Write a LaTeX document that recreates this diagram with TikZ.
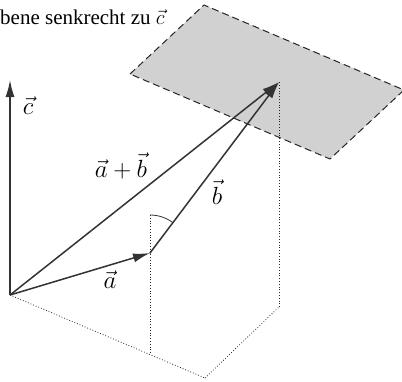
\documentclass[tikz,border=0pt]{standalone}
\usepackage{fontspec}
\setmainfont{Liberation Serif}
\usetikzlibrary{arrows.meta}

\begin{document}
\begin{tikzpicture}[x=1pt, y=-1pt,
    vec/.style = {draw=black!80, line width=1.5pt,
      -{Latex[length=17pt, width=9pt]}},
    proj/.style = {draw=black!85, line width=0.8pt, dotted},
    plane/.style = {fill=black!18, draw=black!85, line width=1pt,
      dash pattern=on 7pt off 4pt},
    lbl/.style = {font=\fontsize{26}{30}\selectfont, inner sep=0pt}]
  \useasboundingbox (0,0) rectangle (402,381);

  % Ebene
  \coordinate (pl) at (130,74);
  \coordinate (pt) at (204,5);
  \coordinate (pr) at (404,90);
  \coordinate (pb) at (330,159);
  \path[plane] (pl) -- (pt) -- (pr) -- (pb) -- cycle;

  % Punkte
  \coordinate (0) at (10,295);
  \coordinate (c) at (10,80);
  \coordinate (a) at (150,253);
  \coordinate (ab) at (279,82);
  \coordinate (a0) at (150,353);
  \coordinate (e) at (205,378);
  \coordinate (b0) at (279,307);
  \coordinate (v) at (150,215);

  % Projektionen
  \draw[proj] (v) -- (a0);
  \draw[proj] (0) -- (e);
  \draw[proj] (e) -- (b0);
  \draw[proj] (b0) -- (ab);
  \draw[draw=black!80, line width=0.8pt] (v) arc[start angle=-90, end angle=-53, radius=38];

  % Vektoren
  \draw[vec] (0) -- (c);
  \draw[vec] (0) -- (a);
  \draw[vec] (0) -- (ab);
  \draw[vec, shorten <=-0.4pt] (a) -- (ab);

  \node[lbl] (lc) at (28,106) {$\vec{c}$};
  \node[lbl] (la) at (110,280) {$\vec{a}$};
  \node[lbl] (lab) at (121,166) {$\vec{a}+\vec{b}$};
  \node[lbl] (lb) at (217,192) {$\vec{b}$};
  \node[anchor=base west, inner sep=0pt,
    font=\fontsize{21}{24}\selectfont] (titel) at (0,24)
    {bene senkrecht zu $\vec{c}$};
\end{tikzpicture}
\end{document}
